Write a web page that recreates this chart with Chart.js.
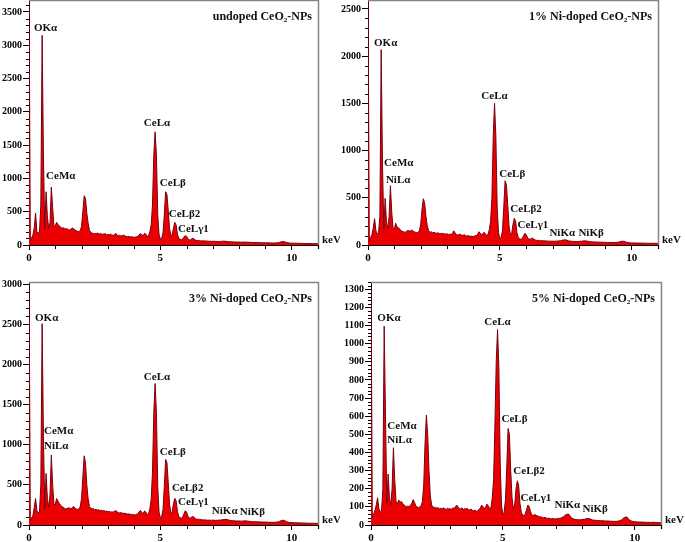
<!DOCTYPE html>
<html>
<head>
<meta charset="utf-8">
<script src="https://cdn.jsdelivr.net/npm/chart.js@4"></script>
<style>
  body { margin: 0; background: #fff; }
  #wrap { position: relative; width: 685px; height: 542px; }
  canvas { position: absolute; }
</style>
</head>
<body>
<div id="wrap">
  <canvas id="undoped" width="340" height="270" style="left:0;top:0"></canvas>
  <canvas id="ni1" width="345" height="270" style="left:340px;top:0"></canvas>
  <canvas id="ni3" width="340" height="272" style="left:0;top:270px"></canvas>
  <canvas id="ni5" width="345" height="272" style="left:340px;top:270px"></canvas>
</div>
<script>
// energy channels (keV): 0.05 steps up to 7 keV, 0.1 steps after
const energy = [
  0, 0.05, 0.1, 0.15, 0.2, 0.25, 0.3, 0.35, 0.4, 0.45, 0.5, 0.55, 0.6, 0.65, 0.7, 0.75, 0.8, 0.85, 0.9, 0.95,
  1, 1.05, 1.1, 1.15, 1.2, 1.25, 1.3, 1.35, 1.4, 1.45, 1.5, 1.55, 1.6, 1.65, 1.7, 1.75, 1.8, 1.85, 1.9, 1.95,
  2, 2.05, 2.1, 2.15, 2.2, 2.25, 2.3, 2.35, 2.4, 2.45, 2.5, 2.55, 2.6, 2.65, 2.7, 2.75, 2.8, 2.85, 2.9, 2.95,
  3, 3.05, 3.1, 3.15, 3.2, 3.25, 3.3, 3.35, 3.4, 3.45, 3.5, 3.55, 3.6, 3.65, 3.7, 3.75, 3.8, 3.85, 3.9, 3.95,
  4, 4.05, 4.1, 4.15, 4.2, 4.25, 4.3, 4.35, 4.4, 4.45, 4.5, 4.55, 4.6, 4.65, 4.7, 4.75, 4.8, 4.85, 4.9, 4.95,
  5, 5.05, 5.1, 5.15, 5.2, 5.25, 5.3, 5.35, 5.4, 5.45, 5.5, 5.55, 5.6, 5.65, 5.7, 5.75, 5.8, 5.85, 5.9, 5.95,
  6, 6.05, 6.1, 6.15, 6.2, 6.25, 6.3, 6.35, 6.4, 6.45, 6.5, 6.55, 6.6, 6.65, 6.7, 6.75, 6.8, 6.85, 6.9, 6.95,
  7,
  7.1, 7.2, 7.3, 7.4, 7.5, 7.6, 7.7, 7.8, 7.9, 8,
  8.1, 8.2, 8.3, 8.4, 8.5, 8.6, 8.7, 8.8, 8.9, 9,
  9.1, 9.2, 9.3, 9.4, 9.5, 9.6, 9.7, 9.8, 9.9, 10,
  10.1, 10.2, 10.3, 10.4, 10.5, 10.6, 10.7, 10.8, 10.9, 11
];

// counts, undoped CeO2
const countsUndoped = [
  4000, 60, 110, 150, 260, 480, 200, 170, 210, 600, 3150, 1350, 230, 800, 420, 250, 330, 870, 560, 280,
  290, 340, 310, 290, 270, 250, 260, 250, 240, 245, 230, 225, 240, 255, 245, 225, 215, 205, 200, 215,
  280, 500, 740, 700, 480, 330, 220, 190, 180, 170, 175, 165, 180, 170, 165, 170, 160, 165, 170, 155,
  160, 150, 165, 150, 145, 155, 175, 150, 140, 145, 135, 140, 150, 135, 130, 125, 130, 120, 125, 120,
  115, 120, 125, 130, 160, 170, 150, 140, 175, 160, 130, 140, 200, 300, 600, 1350, 1700, 1350, 450, 160,
  85, 100, 180, 450, 800, 760, 520, 250, 140, 150, 260, 340, 300, 160, 100, 85, 80, 90, 120, 140,
  130, 95, 75, 80, 95, 100, 85, 70, 65, 70, 65, 60, 65, 60, 62, 58, 60, 55, 58, 55,
  56,
  55, 52, 54, 58, 55, 50, 48, 46, 45, 44,
  42, 44, 42, 40, 38, 37, 36, 35, 34, 33,
  32, 31, 30, 31, 35, 48, 52, 38, 30, 28,
  27, 26, 25, 24, 23, 22, 22, 21, 20, 20
];

// counts, 1% Ni
const countsNi1 = [
  2800, 40, 80, 110, 180, 280, 150, 120, 130, 300, 2070, 850, 170, 495, 250, 170, 300, 628, 350, 180,
  170, 230, 190, 185, 170, 150, 145, 140, 135, 140, 155, 150, 145, 160, 150, 140, 135, 130, 135, 150,
  220, 380, 490, 440, 300, 200, 150, 135, 140, 130, 135, 128, 125, 130, 122, 120, 125, 118, 120, 115,
  118, 112, 115, 110, 120, 150, 130, 110, 105, 108, 115, 105, 100, 110, 98, 95, 100, 92, 95, 90,
  92, 95, 100, 105, 140, 130, 110, 115, 135, 120, 100, 110, 160, 250, 500, 1150, 1500, 1150, 400, 130,
  70, 80, 150, 400, 680, 640, 430, 200, 110, 120, 220, 283, 250, 130, 80, 65, 60, 70, 95, 124,
  110, 80, 60, 62, 70, 72, 60, 52, 48, 50, 47, 45, 46, 44, 45, 42, 43, 41, 42, 40,
  41,
  40, 42, 45, 52, 55, 44, 40, 38, 37, 38,
  40, 44, 42, 36, 33, 32, 31, 30, 29, 28,
  27, 26, 26, 27, 30, 38, 40, 30, 24, 22,
  21, 21, 20, 20, 19, 19, 18, 18, 18, 17
];

// counts, 3% Ni
const countsNi3 = [
  3200, 50, 90, 120, 220, 330, 180, 150, 170, 500, 2510, 1100, 200, 643, 330, 220, 380, 872, 500, 260,
  250, 330, 300, 270, 250, 230, 220, 210, 200, 205, 215, 210, 200, 220, 230, 210, 200, 195, 200, 230,
  330, 600, 863, 780, 500, 330, 230, 210, 200, 205, 190, 195, 185, 190, 180, 185, 175, 180, 170, 175,
  165, 170, 160, 165, 160, 170, 180, 165, 155, 150, 155, 145, 150, 140, 145, 135, 140, 130, 135, 125,
  130, 125, 135, 140, 170, 180, 150, 145, 175, 160, 130, 140, 200, 320, 650, 1400, 1765, 1400, 480, 160,
  90, 105, 190, 480, 818, 780, 530, 260, 150, 160, 270, 332, 300, 170, 110, 90, 85, 100, 140, 178,
  160, 110, 85, 90, 100, 105, 90, 75, 70, 72, 68, 66, 64, 65, 62, 63, 60, 61, 59, 60,
  60,
  58, 60, 62, 68, 70, 62, 55, 52, 50, 50,
  48, 52, 50, 45, 42, 40, 40, 38, 37, 36,
  35, 34, 33, 34, 40, 55, 60, 42, 32, 30,
  28, 27, 26, 25, 24, 23, 22, 22, 21, 20
];

// counts, 5% Ni
const countsNi5 = [
  1400, 40, 60, 80, 110, 150, 90, 70, 80, 200, 1096, 600, 120, 281, 150, 110, 200, 426, 250, 130,
  115, 138, 125, 130, 120, 110, 105, 100, 105, 100, 110, 120, 140, 125, 105, 100, 95, 100, 105, 130,
  220, 450, 606, 500, 300, 160, 110, 100, 95, 98, 92, 95, 90, 92, 88, 95, 90, 85, 92, 88,
  90, 85, 95, 90, 100, 110, 100, 92, 88, 95, 85, 90, 88, 92, 85, 82, 88, 80, 78, 82,
  75, 80, 85, 95, 110, 100, 90, 100, 115, 105, 90, 95, 150, 250, 550, 900, 1078, 870, 350, 110,
  60, 70, 140, 320, 532, 500, 300, 150, 90, 110, 200, 244, 220, 120, 70, 55, 52, 60, 85, 110,
  100, 75, 55, 52, 58, 55, 50, 48, 45, 44, 42, 40, 42, 38, 36, 38, 35, 34, 36, 33,
  34,
  35, 38, 45, 58, 60, 40, 32, 30, 28, 30,
  32, 36, 34, 28, 26, 25, 24, 23, 22, 22,
  21, 20, 20, 22, 28, 40, 45, 28, 20, 18,
  17, 16, 16, 15, 15, 14, 15, 14, 13, 13
];

// axis tick values
const xTicks = [0, 5, 10];
const yTicksUndoped = [0, 500, 1000, 1500, 2000, 2500, 3000, 3500];
const yTicksNi1 = [0, 500, 1000, 1500, 2000, 2500];
const yTicksNi3 = [0, 500, 1000, 1500, 2000, 2500, 3000];
const yTicksNi5 = [0, 100, 200, 300, 400, 500, 600, 700, 800, 900, 1000, 1100, 1200, 1300];

// peak labels: [text, keV, counts] (left edge / middle of the text)
const peaksUndoped = [['OKα', 0.19, 3263], ['CeMα', 0.65, 1038], ['CeLα', 4.37, 1835],
  ['CeLβ', 4.98, 932], ['CeLβ2', 5.32, 466], ['CeLγ1', 5.67, 240]];
const peaksNi1 = [['OKα', 0.23, 2140], ['CeMα', 0.61, 869], ['NiLα', 0.68, 689], ['CeLα', 4.30, 1578],
  ['CeLβ', 4.98, 752], ['CeLβ2', 5.40, 381], ['CeLγ1', 5.67, 212], ['NiKα', 6.88, 127], ['NiKβ', 7.98, 127]];
const peaksNi3 = [['OKα', 0.23, 2578], ['CeMα', 0.57, 1171], ['NiLα', 0.57, 984], ['CeLα', 4.37, 1843],
  ['CeLβ', 4.98, 909], ['CeLβ2', 5.44, 461], ['CeLγ1', 5.67, 286], ['NiKα', 6.96, 174], ['NiKβ', 8.02, 162]];
const peaksNi5 = [['OKα', 0.24, 1140], ['CeMα', 0.62, 545], ['NiLα', 0.62, 468], ['CeLα', 4.30, 1118],
  ['CeLβ', 4.95, 584], ['CeLβ2', 5.40, 297], ['CeLγ1', 5.67, 149], ['NiKα', 6.96, 110], ['NiKβ', 8.02, 88]];

const serif = 'Liberation Serif, Times New Roman, serif';

// frame, minor ticks, peak names, title and keV
const decor = {
  id: 'decor',
  afterDraw(chart, args, opts) {
    const { ctx, chartArea: a, scales: { x, y } } = chart;
    ctx.save();
    ctx.strokeStyle = '#858585';
    ctx.lineWidth = 1.5;
    ctx.beginPath();
    ctx.moveTo(a.left, a.top + 0.5);
    ctx.lineTo(a.right + 0.5, a.top + 0.5);
    ctx.lineTo(a.right + 0.5, a.bottom + 4);
    ctx.stroke();

    ctx.strokeStyle = '#000';
    ctx.lineWidth = 1;
    ctx.beginPath();
    for (let v = opts.minor; v <= y.max; v += opts.minor) {
      if (v % opts.major === 0) continue;
      const py = Math.round(y.getPixelForValue(v)) + 0.5;
      ctx.moveTo(a.left - 3, py);
      ctx.lineTo(a.left, py);
    }
    for (let k = 1; k <= 11; k++) {
      if (k % 5 === 0) continue;
      const px = Math.round(x.getPixelForValue(k)) + 0.5;
      ctx.moveTo(px, a.bottom);
      ctx.lineTo(px, a.bottom + 4);
    }
    ctx.stroke();

    ctx.fillStyle = '#111';
    ctx.textBaseline = 'middle';
    ctx.textAlign = 'left';
    ctx.font = `bold 11px ${serif}`;
    opts.peaks.forEach(([t, e, c]) => {
      ctx.fillText(t, x.getPixelForValue(e), y.getPixelForValue(c));
    });
    ctx.fillText('keV', a.right + 4, a.bottom - 5);

    ctx.font = `bold 12px ${serif}`;
    ctx.textAlign = 'right';
    ctx.fillText(opts.title, a.right - 6, a.top + 17);
    ctx.restore();
  }
};

function makeSpectrum(id, counts, peaks, title, yTicks, yMax, minor, box) {
  const ctx = document.getElementById(id).getContext('2d');
  const major = yTicks[1] - yTicks[0];
  return new Chart(ctx, {
    type: 'line',
    data: {
      datasets: [{
        data: counts.map((c, i) => ({ x: energy[i], y: c })),
        borderColor: 'rgb(120,0,15)',
        backgroundColor: 'rgb(234,0,0)',
        borderWidth: 1,
        fill: 'origin',
        pointRadius: 0,
        tension: 0
      }]
    },
    options: {
      responsive: false,
      animation: false,
      layout: { padding: { left: 0, right: box.padRight, top: box.padTop, bottom: 0 } },
      scales: {
        x: {
          type: 'linear',
          min: 0,
          max: 11,
          z: 1,
          afterBuildTicks: s => { s.ticks = xTicks.map(v => ({ value: v })); },
          ticks: {
            color: '#000',
            padding: 2,
            maxRotation: 0,
            autoSkip: false,
            font: { family: serif, weight: 'bold', size: 11 },
            callback: v => v
          },
          grid: { drawOnChartArea: false, tickLength: 5, color: '#000' },
          border: { color: '#000', width: 1 },
          afterFit: s => { s.height = box.xHeight; s.paddingLeft = 0; s.paddingRight = 0; }
        },
        y: {
          min: 0,
          max: yMax,
          z: 1,
          afterBuildTicks: s => { s.ticks = yTicks.map(v => ({ value: v })); },
          ticks: {
            color: '#000',
            padding: 1,
            autoSkip: false,
            font: { family: serif, weight: 'bold', size: 10 },
            callback: v => v
          },
          grid: { drawOnChartArea: false, tickLength: 6, color: '#000' },
          border: { color: '#000', width: 1 },
          afterFit: s => { s.width = box.yWidth; s.paddingTop = 0; s.paddingBottom = 0; }
        }
      },
      plugins: {
        legend: { display: false },
        tooltip: { enabled: false },
        decor: { peaks, title, major, minor }
      }
    },
    plugins: [decor]
  });
}

makeSpectrum('undoped', countsUndoped, peaksUndoped, 'undoped CeO₂-NPs', yTicksUndoped, 3680, 100,
  { yWidth: 29, xHeight: 25, padRight: 22, padTop: 0 });
makeSpectrum('ni1', countsNi1, peaksNi1, '1% Ni-doped CeO₂-NPs', yTicksNi1, 2595, 100,
  { yWidth: 28, xHeight: 25, padRight: 27, padTop: 0 });
makeSpectrum('ni3', countsNi3, peaksNi3, '3% Ni-doped CeO₂-NPs', yTicksNi3, 3030, 100,
  { yWidth: 29, xHeight: 17, padRight: 22, padTop: 12 });
makeSpectrum('ni5', countsNi5, peaksNi5, '5% Ni-doped CeO₂-NPs', yTicksNi5, 1340, 20,
  { yWidth: 31, xHeight: 17, padRight: 24, padTop: 12 });
</script>
</body>
</html>
